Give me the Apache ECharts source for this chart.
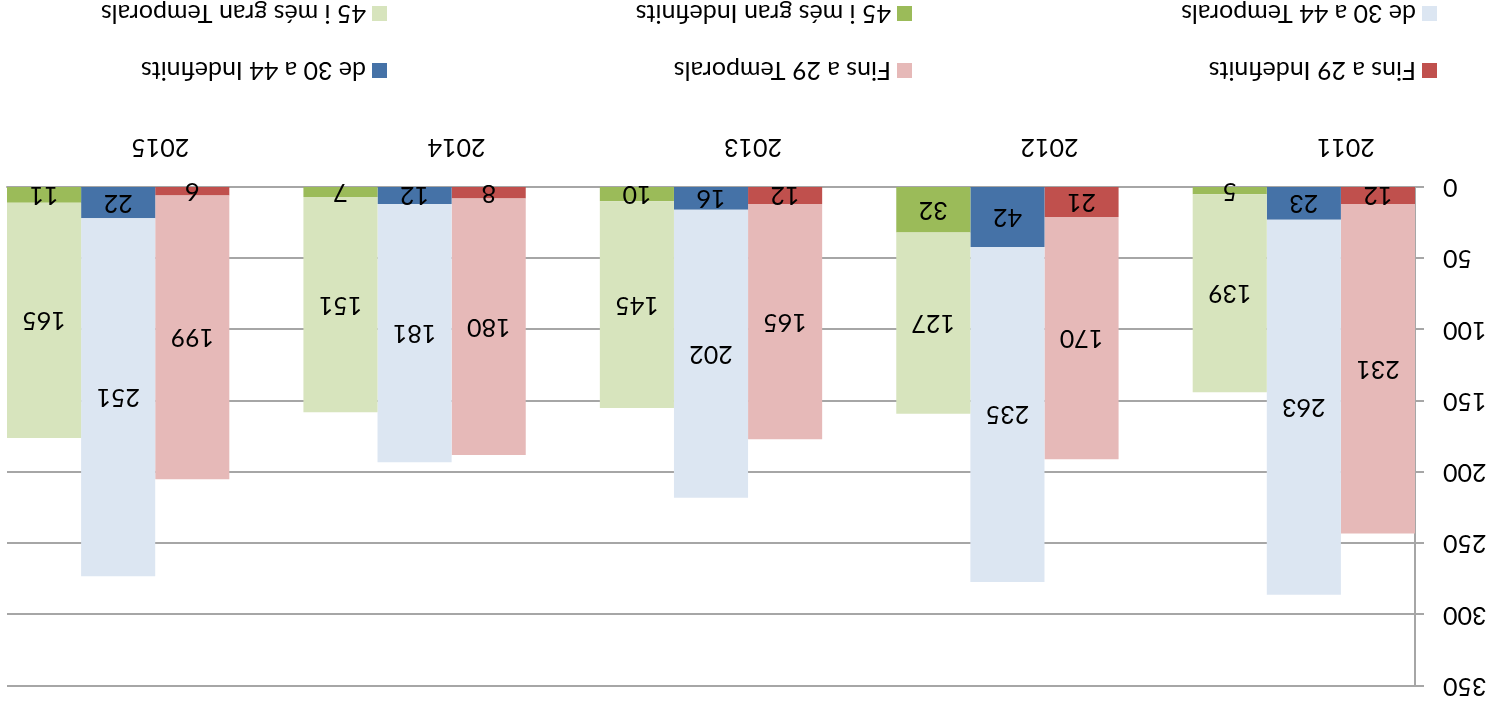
<!DOCTYPE html>
<html>
<head>
<meta charset="utf-8">
<script src="https://cdn.jsdelivr.net/npm/echarts@6/dist/echarts.min.js"></script>
<style>
  html, body { margin: 0; padding: 0; background: #fff; }
  /* the reference is drawn upside down, so the whole chart is turned */
  #chart { width: 1494px; height: 709px; transform: rotate(180deg); }
</style>
</head>
<body>
<div id="chart"></div>
<script>
  const years = ['2011', '2012', '2013', '2014', '2015']
  const fins29Indef = [12, 21, 12, 8, 6]
  const fins29Temp = [231, 170, 165, 180, 199]
  const de3044Indef = [23, 42, 16, 12, 22]
  const de3044Temp = [263, 235, 202, 181, 251]
  const mes45Indef = [5, 32, 10, 7, 11]
  const mes45Temp = [139, 127, 145, 151, 165]
  const yTicks = { min: 0, max: 350, interval: 50 }

  // 3 columns per year + one empty column between years
  const slots = []
  years.forEach((y, i) => {
    slots.push('', y, '')
    if (i < years.length - 1) slots.push('')
  })

  const font = 'Lato'

  function slotData(values, offset) {
    const arr = slots.map(() => '-')
    values.forEach((v, i) => {
      arr[i * 4 + offset] = v
    })
    return arr
  }

  const seriesDefs = [
    { name: 'Fins a 29 Indefinits', values: fins29Indef, offset: 0, color: '#C0504D', legend: [57, 626] },
    { name: 'Fins a 29 Temporals', values: fins29Temp, offset: 0, color: '#E6B9B8', legend: [582, 626] },
    { name: 'de 30 a 44 Indefinits', values: de3044Indef, offset: 1, color: '#4572A7', legend: [1107, 626] },
    { name: 'de 30 a 44 Temporals', values: de3044Temp, offset: 1, color: '#DCE6F2', legend: [57, 683] },
    { name: '45 i més gran Indefinits', values: mes45Indef, offset: 2, color: '#9BBB59', legend: [582, 683] },
    { name: '45 i més gran Temporals', values: mes45Temp, offset: 2, color: '#D7E4BD', legend: [1107, 683] },
  ]

  const chart = echarts.init(document.getElementById('chart'))
  chart.setOption({
    animation: false,
    textStyle: { fontFamily: font },
    // one legend per entry, to keep the 3x2 layout of the original
    legend: seriesDefs.map(s => ({
      left: s.legend[0],
      top: s.legend[1],
      data: [s.name],
      itemWidth: 15,
      itemHeight: 15,
      selectedMode: false,
      icon: 'rect',
      padding: 0,
      textStyle: {
        fontFamily: font,
        fontSize: 25,
        color: '#000',
        lineHeight: 15,
        padding: [0, 0, 0, 1],
      },
    })),
    grid: {
      left: 79,
      right: 7,
      top: 23,
      bottom: 187,
    },
    xAxis: {
      type: 'category',
      data: slots,
      axisLine: { lineStyle: { color: '#A6A6A6', width: 2 } },
      axisTick: {
        interval: 0,
        length: 7,
        lineStyle: { color: '#A6A6A6', width: 2 },
      },
      axisLabel: {
        interval: 0,
        margin: 27,
        color: '#000',
        fontFamily: font,
        fontSize: 25,
        padding: [0, 84, 0, 0], // year sits a bit left of the middle column
      },
    },
    yAxis: {
      type: 'value',
      min: yTicks.min,
      max: yTicks.max,
      interval: yTicks.interval,
      axisLine: { show: true, lineStyle: { color: '#A6A6A6', width: 2 } },
      axisTick: { show: true, length: 9, lineStyle: { color: '#A6A6A6', width: 2 } },
      splitLine: { lineStyle: { color: '#A6A6A6', width: 2 } },
      axisLabel: {
        margin: 28,
        color: '#000',
        fontFamily: font,
        fontSize: 25,
      },
    },
    series: seriesDefs.map(s => ({
      name: s.name,
      type: 'bar',
      stack: 'all',
      barWidth: '100%',
      barCategoryGap: '0%',
      data: slotData(s.values, s.offset),
      itemStyle: { color: s.color },
      label: {
        show: true,
        position: 'inside',
        color: '#000',
        fontFamily: font,
        fontSize: 25,
      },
    })),
  })
</script>
</body>
</html>
